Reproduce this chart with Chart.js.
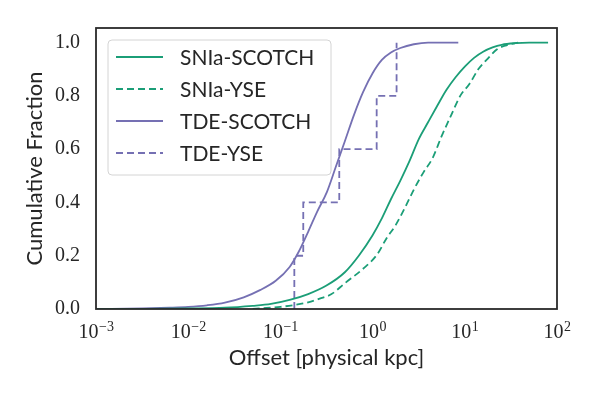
<!DOCTYPE html>
<html>
<head>
  <meta charset="UTF-8">
  <title>Cumulative offset distribution</title>
  <style>
    body { margin: 0; background: #fff; }
  </style>
  <script src="https://cdn.jsdelivr.net/npm/chart.js"></script>
</head>
<body>
  <canvas id="cdfChart" width="600" height="400"></canvas>
  <script>
    // Offset [physical kpc] and cumulative fraction
    const snScotchX = [0.001, 0.0032, 0.01, 0.025, 0.05, 0.079, 0.126, 0.2, 0.316, 0.5, 0.708, 1.0, 1.26, 1.58, 2.0, 2.51, 3.16, 3.98, 5.01, 6.31, 7.94, 10, 12.6, 15.8, 20, 25.1, 35.5, 50, 80];
    const snScotchY = [0, 0.0005, 0.002, 0.005, 0.012, 0.019, 0.034, 0.056, 0.088, 0.138, 0.2, 0.277, 0.34, 0.412, 0.482, 0.555, 0.637, 0.70, 0.762, 0.822, 0.87, 0.91, 0.943, 0.966, 0.982, 0.992, 0.998, 1.0, 1.0];

    const snYseX = [0.05, 0.0708, 0.1, 0.141, 0.2, 0.282, 0.355, 0.501, 0.794, 1.122, 1.413, 1.778, 2.239, 2.818, 3.548, 4.467, 5.623, 7.079, 8.913, 11.22, 14.13, 17.78, 22.39, 28.18, 38.0];
    const snYseY = [0, 0.004, 0.008, 0.015, 0.025, 0.042, 0.055, 0.097, 0.152, 0.205, 0.265, 0.315, 0.38, 0.45, 0.512, 0.566, 0.65, 0.726, 0.80, 0.845, 0.902, 0.94, 0.975, 0.99, 1.0];

    const tdeScotchX = [0.001, 0.0032, 0.0063, 0.01, 0.016, 0.025, 0.04, 0.06, 0.089, 0.126, 0.158, 0.2, 0.25, 0.32, 0.4, 0.5, 0.63, 0.79, 1.0, 1.26, 1.58, 2.0, 2.8, 4.0, 8.5];
    const tdeScotchY = [0, 0.002, 0.005, 0.008, 0.014, 0.024, 0.044, 0.071, 0.106, 0.158, 0.215, 0.29, 0.365, 0.44, 0.535, 0.63, 0.73, 0.815, 0.885, 0.935, 0.963, 0.98, 0.994, 1.0, 1.0];

    const tdeYseX = [0.1416, 0.1416, 0.177, 0.435, 1.107, 1.82];
    const tdeYseY = [0, 0.2, 0.4, 0.6, 0.8, 1.0];

    const xTicks = [0.001, 0.01, 0.1, 1, 10, 100];
    const xTickExp = ['\u22123', '\u22122', '\u22121', '0', '1', '2'];
    const yTicks = [0, 0.2, 0.4, 0.6, 0.8, 1.0];

    const green = '#1b9e77';
    const purple = '#7570b3';
    const ink = '#262626';

    function toPoints(xs, ys) {
      return xs.map((x, i) => ({ x: x, y: ys[i] }));
    }

    // 10^n labels with a raised exponent, placed on the log scale's ticks
    const powerLabels = {
      id: 'powerLabels',
      afterDraw(chart) {
        const ctx = chart.ctx;
        const scale = chart.scales.x;
        ctx.save();
        ctx.fillStyle = ink;
        ctx.textBaseline = 'alphabetic';
        xTicks.forEach((v, i) => {
          const px = scale.getPixelForValue(v);
          ctx.font = '20px "Liberation Serif"';
          const wBase = ctx.measureText('10').width;
          ctx.font = '14px "Liberation Serif"';
          const wExp = ctx.measureText(xTickExp[i]).width;
          const x0 = px - (wBase + wExp) / 2;
          ctx.font = '20px "Liberation Serif"';
          ctx.fillText('10', x0, scale.top + 29);
          ctx.font = '14px "Liberation Serif"';
          ctx.fillText(xTickExp[i], x0 + wBase + 0.5, scale.top + 22);
        });
        ctx.restore();
      }
    };

    // legend drawn inside the axes, like matplotlib's upper-left legend
    const innerLegend = {
      id: 'innerLegend',
      afterDraw(chart) {
        const ctx = chart.ctx;
        const area = chart.chartArea;
        const bx = area.left + 12, by = area.top + 12, bw = 223, bh = 135;
        ctx.save();
        ctx.beginPath();
        ctx.roundRect(bx, by, bw, bh, 4);
        ctx.fillStyle = 'rgba(255,255,255,0.8)';
        ctx.fill();
        ctx.strokeStyle = '#d4d4d4';
        ctx.lineWidth = 1;
        ctx.stroke();
        ctx.font = '21px Lato';
        ctx.textBaseline = 'alphabetic';
        chart.data.datasets.forEach((ds, i) => {
          const cy = by + 17 + i * 32;
          ctx.beginPath();
          ctx.setLineDash(ds.borderDash || []);
          ctx.strokeStyle = ds.borderColor;
          ctx.lineWidth = ds.borderWidth;
          ctx.moveTo(bx + 8, cy);
          ctx.lineTo(bx + 55, cy);
          ctx.stroke();
          ctx.setLineDash([]);
          ctx.fillStyle = ink;
          ctx.fillText(ds.label, bx + 72, cy + 7.5);
        });
        // axes frame
        ctx.strokeStyle = '#2a2a2a';
        ctx.lineWidth = 1.8;
        ctx.strokeRect(area.left, area.top, area.right - area.left, area.bottom - area.top);
        ctx.restore();
      }
    };

    const ctx = document.getElementById('cdfChart').getContext('2d');
    new Chart(ctx, {
      type: 'line',
      data: {
        datasets: [
          { label: 'SNIa-SCOTCH', data: toPoints(snScotchX, snScotchY), borderColor: green, borderWidth: 1.8, cubicInterpolationMode: 'monotone' },
          { label: 'SNIa-YSE', data: toPoints(snYseX, snYseY), borderColor: green, borderWidth: 1.8, borderDash: [7, 4], cubicInterpolationMode: 'monotone' },
          { label: 'TDE-SCOTCH', data: toPoints(tdeScotchX, tdeScotchY), borderColor: purple, borderWidth: 1.8, cubicInterpolationMode: 'monotone' },
          { label: 'TDE-YSE', data: toPoints(tdeYseX, tdeYseY), borderColor: purple, borderWidth: 1.8, borderDash: [7, 4], stepped: 'before' }
        ]
      },
      options: {
        responsive: false,
        animation: false,
        devicePixelRatio: 1,
        layout: { padding: { top: 26, right: 43, left: 0, bottom: 0 } },
        elements: { point: { radius: 0 } },
        plugins: {
          legend: { display: false },
          tooltip: { enabled: false }
        },
        scales: {
          x: {
            type: 'logarithmic',
            min: 0.001,
            max: 100,
            afterBuildTicks: (scale) => { scale.ticks = xTicks.map(v => ({ value: v })); },
            afterFit: (scale) => { scale.height = 91; },
            grid: { display: false, drawTicks: false },
            border: { display: false },
            ticks: { display: false },
            title: {
              display: true,
              text: 'Offset [physical kpc]',
              color: ink,
              font: { family: 'Lato', size: 22 },
              padding: { top: 4, bottom: 29 }
            }
          },
          y: {
            min: 0,
            max: 1.055,
            afterBuildTicks: (scale) => { scale.ticks = yTicks.map(v => ({ value: v })); },
            afterFit: (scale) => { scale.width = 96; },
            grid: { display: false, drawTicks: false },
            border: { display: false },
            ticks: {
              padding: 16,
              color: ink,
              font: { family: 'Liberation Serif', size: 20 },
              callback: (v) => v.toFixed(1)
            },
            title: {
              display: true,
              text: 'Cumulative Fraction',
              color: ink,
              font: { family: 'Lato', size: 22 },
              padding: { top: 22, bottom: 2 }
            }
          }
        }
      },
      plugins: [innerLegend, powerLabels]
    });
  </script>
</body>
</html>
